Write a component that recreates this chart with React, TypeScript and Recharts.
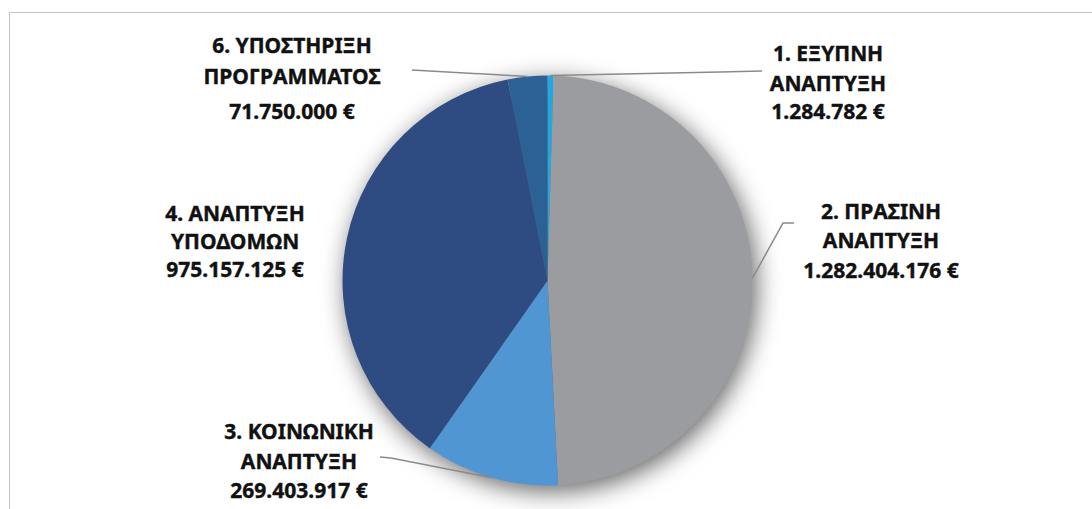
import React from "react";
import { Cell, Pie, PieChart } from "recharts";

const names = [
    "1. ΕΞΥΠΝΗ ΑΝΑΠΤΥΞΗ",
    "2. ΠΡΑΣΙΝΗ ΑΝΑΠΤΥΞΗ",
    "3. ΚΟΙΝΩΝΙΚΗ ΑΝΑΠΤΥΞΗ",
    "4. ΑΝΑΠΤΥΞΗ ΥΠΟΔΟΜΩΝ",
    "6. ΥΠΟΣΤΗΡΙΞΗ ΠΡΟΓΡΑΜΜΑΤΟΣ",
];
const labelLine1 = ["1. ΕΞΥΠΝΗ", "2. ΠΡΑΣΙΝΗ", "3. ΚΟΙΝΩΝΙΚΗ", "4. ΑΝΑΠΤΥΞΗ", "6. ΥΠΟΣΤΗΡΙΞΗ"];
const labelLine2 = ["ΑΝΑΠΤΥΞΗ", "ΑΝΑΠΤΥΞΗ", "ΑΝΑΠΤΥΞΗ", "ΥΠΟΔΟΜΩΝ", "ΠΡΟΓΡΑΜΜΑΤΟΣ"];
const amounts = [1284782, 1282404176, 269403917, 975157125, 71750000];
const colors = ["#22a7e1", "#9a9c9f", "#5096d3", "#2e4b82", "#2c6196"];

const data = names.map((name, i) => ({ name, value: amounts[i] }));

// where Excel put each label: text centre x, line centre ys, leader path after the slice point
const labelLayout = [
    { x: 828, ys: [53, 83, 111], path: [[762, 71]] },
    { x: 881, ys: [211, 240, 270], path: [[783, 223], [794, 223]] },
    { x: 299, ys: [431, 461, 490], path: [[391, 458], [380, 457]] },
    { x: 235, ys: [213, 241, 269], path: [] },
    { x: 292, ys: [45, 76, 111], path: [[412, 70]] },
];

const fmt = (v: number) => String(v).replace(/\B(?=(\d{3})+(?!\d))/g, ".") + " €";

const RAD = Math.PI / 180;
const W = 1092;
const H = 509;
const CX = 547.5;
const CY = 280.5;
const R = 205;

function renderLabel(props: any) {
    const { cx, cy, midAngle, outerRadius, index } = props;
    const lay = labelLayout[index];
    const sx = cx + outerRadius * Math.cos(-midAngle * RAD);
    const sy = cy + outerRadius * Math.sin(-midAngle * RAD);
    const pts = [[sx, sy], ...lay.path];
    const lines = [labelLine1[index], labelLine2[index], fmt(amounts[index])];
    return (
        <g key={"lbl" + index}>
            {lay.path.length > 0 && (
                <polyline
                    points={pts.map((p) => p.join(",")).join(" ")}
                    fill="none"
                    stroke="#8a8a8a"
                    strokeWidth={1.5}
                />
            )}
            {lines.map((t, j) => (
                <text
                    key={j}
                    x={lay.x}
                    y={lay.ys[j]}
                    textAnchor="middle"
                    dominantBaseline="central"
                    fill="#111"
                    stroke="#111"
                    strokeWidth={0.4}
                    fontFamily="'Noto Sans', sans-serif"
                    fontWeight={700}
                    fontSize={21}>
                    {t}
                </text>
            ))}
        </g>
    );
}

const noMargin = { top: 0, right: 0, bottom: 0, left: 0 };

export default function App() {
    return (
        <div style={{ position: "fixed", left: 0, top: 0, width: W, height: H, background: "#fff" }}>
            <div
                style={{
                    position: "absolute",
                    left: 9,
                    top: 12,
                    right: 0,
                    bottom: 0,
                    borderLeft: "1.5px solid #c4c4c4",
                    borderTop: "1.5px solid #c4c4c4",
                }}
            />
            {/* the pie itself, with a soft shadow */}
            <div
                style={{
                    position: "absolute",
                    left: 0,
                    top: 0,
                    width: W,
                    height: H,
                    filter: "drop-shadow(4px 6px 12px rgba(0,0,0,0.6))",
                }}>
                <PieChart width={W} height={H} margin={noMargin}>
                    <Pie
                        data={data}
                        dataKey="value"
                        cx={CX}
                        cy={CY}
                        outerRadius={R}
                        startAngle={90}
                        endAngle={-270}
                        minAngle={1.5}
                        stroke="none"
                        isAnimationActive={false}>
                        {data.map((d, i) => (
                            <Cell key={d.name} fill={colors[i]} />
                        ))}
                    </Pie>
                </PieChart>
            </div>
            {/* labels and leader lines, on top without shadow */}
            <div style={{ position: "absolute", left: 0, top: 0, width: W, height: H }}>
                <PieChart width={W} height={H} margin={noMargin}>
                    <Pie
                        data={data}
                        dataKey="value"
                        cx={CX}
                        cy={CY}
                        outerRadius={R}
                        startAngle={90}
                        endAngle={-270}
                        minAngle={1.5}
                        fill="none"
                        stroke="none"
                        label={renderLabel}
                        labelLine={false}
                        isAnimationActive={false}>
                        {data.map((d) => (
                            <Cell key={d.name} fill="none" />
                        ))}
                    </Pie>
                </PieChart>
            </div>
        </div>
    );
}
